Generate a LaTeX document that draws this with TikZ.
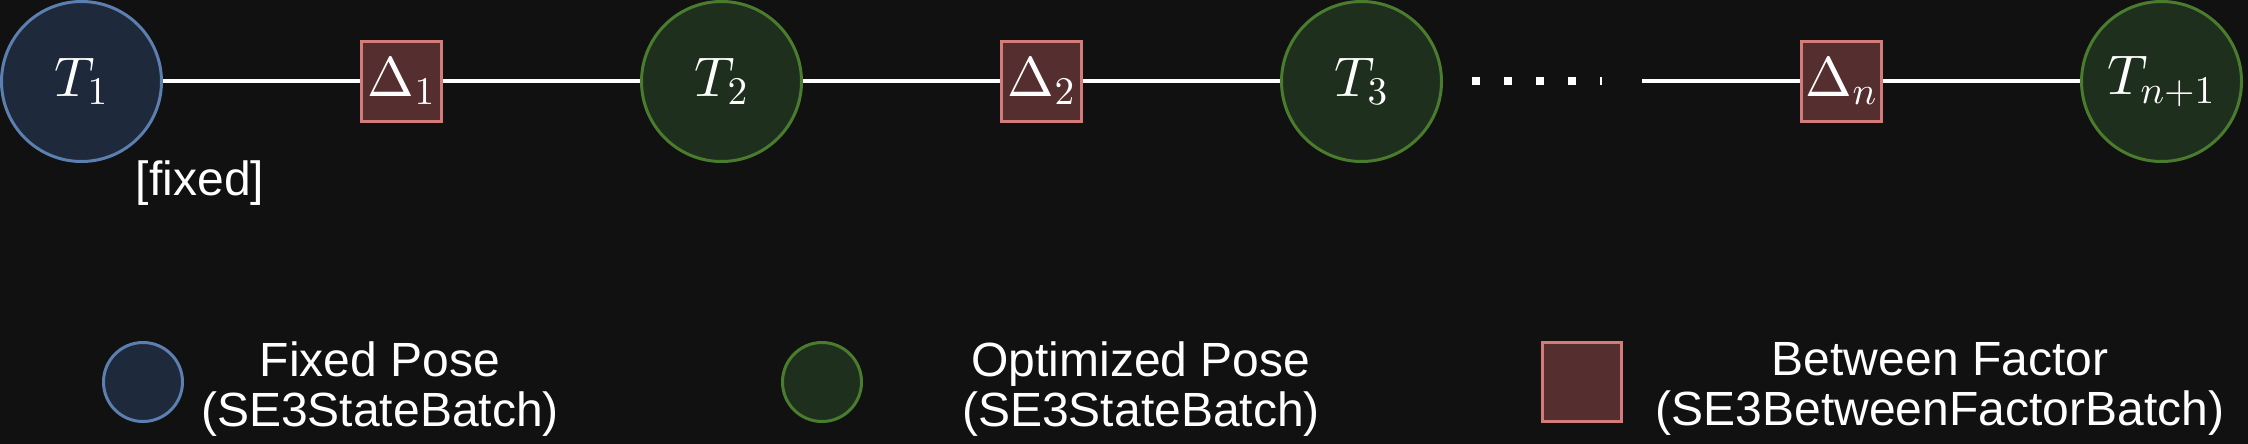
\documentclass[tikz,border=0pt]{standalone}
\usepackage{fontspec}
\setmainfont{Liberation Sans}
\DeclareFontShape{OML}{cmm}{m}{it}{<->cmmi10}{\skewchar\font'177}
\DeclareFontShape{OT1}{cmr}{m}{n}{<->cmr10}{}
\definecolor{bgc}{HTML}{111111}
\definecolor{fixfill}{HTML}{1E293B}
\definecolor{fixdraw}{HTML}{5B7FAE}
\definecolor{optfill}{HTML}{1F2F1E}
\definecolor{optdraw}{HTML}{4A7C2E}
\definecolor{facfill}{HTML}{552F2F}
\definecolor{facdraw}{HTML}{D47C7A}
\begin{document}
\begin{tikzpicture}[x=0.5pt,y=-0.5pt,
  fixedpose/.style={circle,draw=fixdraw,fill=fixfill,line width=1.5pt,minimum size=80pt,inner sep=0pt,text=white,font=\fontsize{28}{34}\selectfont},
  optpose/.style={circle,draw=optdraw,fill=optfill,line width=1.5pt,minimum size=80pt,inner sep=0pt,text=white,font=\fontsize{28}{34}\selectfont},
  factor/.style={rectangle,draw=facdraw,fill=facfill,line width=1.5pt,minimum size=40pt,inner sep=0pt,text=white,font=\fontsize{28}{34}\selectfont},
  legendsize/.style={minimum size=39.5pt},
  edge/.style={draw=white,line width=2pt},
  dotline/.style={draw=white,line width=4pt,dash pattern=on 4pt off 12pt},
  plaintext/.style={text=white,font=\fontsize{24}{25}\selectfont,inner sep=0pt},
  legendtext/.style={plaintext,align=center}]
\fill[bgc] (0,0) rectangle (2248,444);
\useasboundingbox (0,0) rectangle (2248,444);
\node[fixedpose] (T1) at (81.5,81.5) {$T_1$};
\node[factor] (D1) at (401.5,81.5) {$\Delta_1$};
\node[optpose] (T2) at (721.5,81.5) {$T_2$};
\node[factor] (D2) at (1041.5,81.5) {$\Delta_2$};
\node[optpose] (T3) at (1361.5,81.5) {$T_3$};
\coordinate (dotA) at (1472,81.5);
\coordinate (dotB) at (1602,81.5);
\coordinate (lineC) at (1642,81.5);
\node[factor] (Dn) at (1841.5,81.5) {$\Delta_n$};
\node[optpose] (Tn) at (2161.5,81.5) {$T_{n+1}$};
\draw[edge] (T1) -- (D1);
\draw[edge] (D1) -- (T2);
\draw[edge] (T2) -- (D2);
\draw[edge] (D2) -- (T3);
\draw[dotline] (dotA) -- (dotB);
\draw[edge] (lineC) -- (Dn);
\draw[edge] (Dn) -- (Tn);
\node[plaintext,anchor=base] (fixedlbl) at (200,195) {[fixed]};
\node[fixedpose,legendsize] (L1) at (143,382) {};
\node[legendtext] (L1t) at (380,388.8) {Fixed Pose\\(SE3StateBatch)};
\node[optpose,legendsize] (L2) at (822,382) {};
\node[legendtext] (L2t) at (1141,388.8) {Optimized Pose\\(SE3StateBatch)};
\node[factor,legendsize] (L3) at (1582,382) {};
\node[legendtext] (L3t) at (1940,388.8) {Between Factor\\(SE3BetweenFactorBatch)};
\end{tikzpicture}
\end{document}
